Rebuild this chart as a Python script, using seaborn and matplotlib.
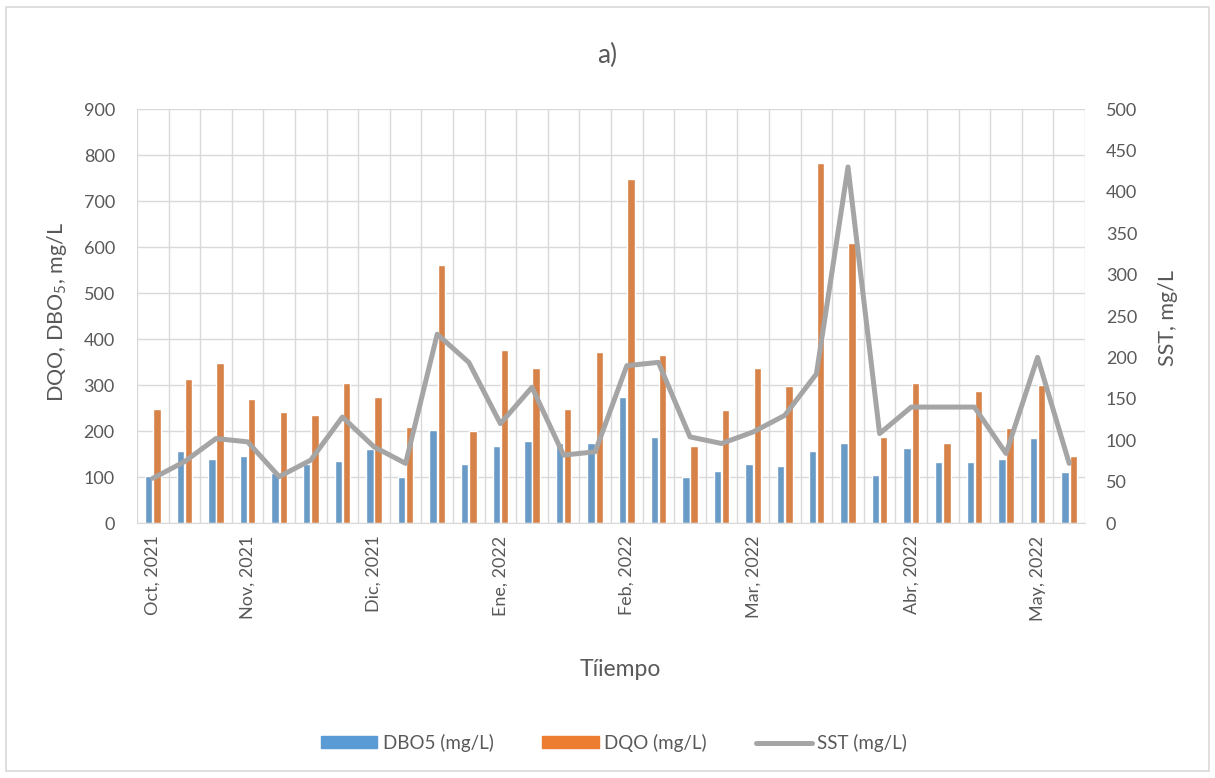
import numpy as np
import pandas as pd
import seaborn as sns
import matplotlib.pyplot as plt
from matplotlib.patches import Patch, Rectangle
from matplotlib.lines import Line2D

# datos
muestra = list(range(1, 31))
meses = ["Oct, 2021", "", "", "Nov, 2021", "", "", "", "Dic, 2021", "", "", "",
         "Ene, 2022", "", "", "", "Feb, 2022", "", "", "", "Mar, 2022", "", "", "", "",
         "Abr, 2022", "", "", "", "May, 2022", ""]
dbo5 = [103, 157, 140, 146, 108, 129, 135, 160, 101, 203, 129, 168, 178, 173, 175,
        273, 188, 101, 114, 129, 125, 157, 175, 104, 164, 132, 132, 140, 185, 111]
dqo = [248, 312, 347, 270, 241, 235, 305, 273, 209, 560, 200, 377, 337, 248, 372,
       747, 365, 168, 246, 337, 298, 782, 608, 188, 305, 175, 288, 206, 301, 146]
sst = [54, 74, 102, 98, 56, 76, 128, 92, 72, 228, 194, 120, 164, 82, 86,
       190, 194, 104, 96, 110, 130, 180, 430, 108, 140, 140, 140, 84, 200, 72]

azul, naranja, gris = "#5B9BD5", "#ED7D31", "#A5A5A5"
txt = "#595959"
grid_c = "#D9D9D9"

sns.set_style("white")
plt.rcParams['font.family'] = ['Lato', 'DejaVu Sans']
plt.rcParams['mathtext.default'] = 'regular'

df = pd.DataFrame({
    "muestra": muestra * 2,
    "valor": dbo5 + dqo,
    "serie": ["DBO5 (mg/L)"] * len(dbo5) + ["DQO (mg/L)"] * len(dqo),
})

fig = plt.figure(figsize=(12.15, 7.78), dpi=100)
ax = fig.add_axes([137/1215, 1-523/778, (1085-137)/1215, (523-109)/778])

sns.barplot(data=df, x="muestra", y="valor", hue="serie", palette=[azul, naranja],
            width=0.52, gap=0.1, errorbar=None, legend=False, ax=ax)

ax2 = ax.twinx()
sns.pointplot(x=muestra, y=sst, color=gris, marker="", linewidth=3.6,
              errorbar=None, ax=ax2)

ax.set_ylim(0, 900)
ax.set_yticks(range(0, 901, 100))
ax2.set_ylim(0, 500)
ax2.set_yticks(range(0, 501, 50))
ax.set_xlim(-0.5, len(muestra) - 0.5)
ax.set_xticks(range(len(meses)))
ax.set_xticklabels(meses, rotation=90)
ax.set_xticks(np.arange(-0.5, len(muestra), 1), minor=True)

ax.set_axisbelow(True)
ax.grid(which="major", axis="y", color=grid_c, lw=1)
ax.grid(which="minor", axis="x", color=grid_c, lw=1)
ax2.grid(False)

for a in (ax, ax2):
    for s in a.spines.values():
        s.set_visible(False)
    a.set_xlabel("")
    a.set_ylabel("")
ax.spines["bottom"].set_visible(True)
ax.spines["bottom"].set_color(grid_c)

ax.tick_params(axis="both", which="both", length=0, colors=txt, labelsize=13)
ax.tick_params(axis="y", pad=16)
ax.tick_params(axis="x", pad=9)
ax2.tick_params(axis="y", length=0, colors=txt, labelsize=13, pad=15)

fig.text(607/1215, 1-55/778, "a)", ha="center", va="center", fontsize=19, color=txt)
fig.text(57/1215, 1-312/778, "DQO, DBO$_5$, mg/L", rotation=90, ha="center",
         va="center", fontsize=15.5, color=txt)
fig.text(1168/1215, 1-318/778, "SST, mg/L", rotation=90, ha="center",
         va="center", fontsize=15.5, color=txt)
fig.text(620/1215, 1-670/778, "Tíiempo", ha="center", va="center",
         fontsize=16.5, color=txt)

handles = [Patch(color=azul, label="DBO5 (mg/L)"),
           Patch(color=naranja, label="DQO (mg/L)"),
           Line2D([], [], color=gris, lw=3.6, label="SST (mg/L)")]
fig.legend(handles=handles, loc="center", bbox_to_anchor=(614/1215, 1-743/778),
           ncol=3, frameon=False, fontsize=13.5, handlelength=3.0, handleheight=0.6,
           handletextpad=0.3, columnspacing=2.6, labelcolor=txt)

fig.patches.append(Rectangle((6/1215, 7/778), 1203/1215, 764/778,
                             transform=fig.transFigure, fill=False,
                             edgecolor=grid_c, lw=1.2))

plt.savefig("out.png", dpi=100)
